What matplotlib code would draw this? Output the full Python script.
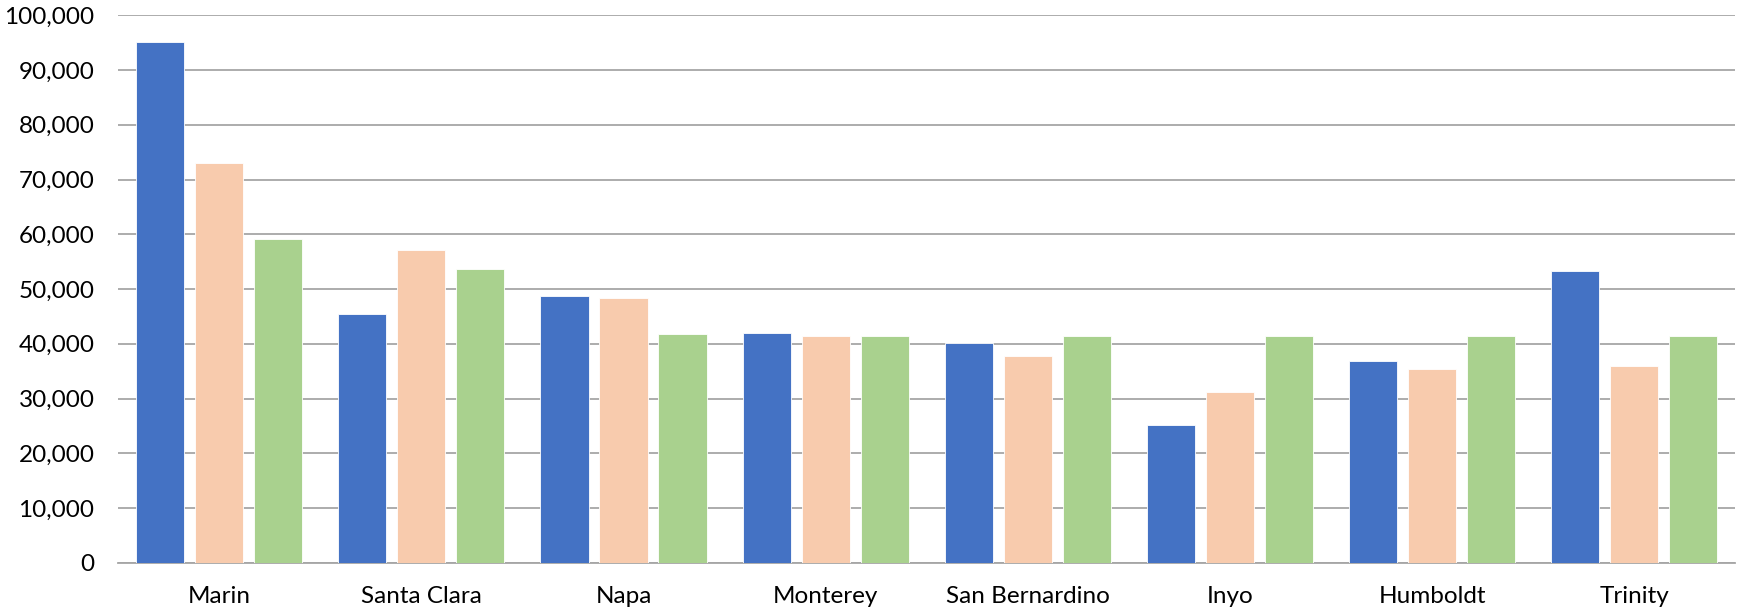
import matplotlib
matplotlib.use("Agg")
import matplotlib.pyplot as plt
import numpy as np
from matplotlib.ticker import FuncFormatter

categories = ["Marin", "Santa Clara", "Napa", "Monterey", "San Bernardino", "Inyo", "Humboldt", "Trinity"]
series_blue = [95100, 45400, 48800, 41900, 40200, 25200, 36900, 53300]
series_orange = [73100, 57100, 48400, 41400, 37800, 31100, 35400, 35900]
series_green = [59200, 53600, 41800, 41400, 41400, 41400, 41400, 41400]
colors = ["#4472C4", "#F8CBAD", "#A9D18E"]

plt.rcParams['font.family'] = ['Lato', 'DejaVu Sans']
fig = plt.figure(figsize=(17.37, 6.13), dpi=100)
ax = fig.add_axes([0.068, 0.082, 0.931, 0.893])

x = np.arange(len(categories))
w = 0.238
step = 0.292
for i, (vals, c) in enumerate(zip([series_blue, series_orange, series_green], colors)):
    ax.bar(x + (i - 1) * step, vals, width=w, color=c, edgecolor="white", linewidth=0.6, zorder=3)

ax.set_ylim(0, 100000)
ax.set_xlim(-0.5, len(categories) - 0.5)
ax.set_yticks(np.arange(0, 100001, 10000))
ax.yaxis.set_major_formatter(FuncFormatter(lambda v, p: f"{int(v):,}"))
ax.set_xticks(x)
ax.set_xticklabels(categories)
ax.grid(axis="y", color="#a6a6a6", linewidth=1.3, zorder=0)
for s in ["top", "right", "left"]:
    ax.spines[s].set_visible(False)
ax.spines["bottom"].set_color("#a6a6a6")
ax.spines["bottom"].set_linewidth(1.3)
ax.tick_params(axis="both", length=0, labelsize=17.5, colors="#000000")
ax.tick_params(axis="x", pad=17)
ax.tick_params(axis="y", pad=17)

fig.savefig("out.png", dpi=100)
